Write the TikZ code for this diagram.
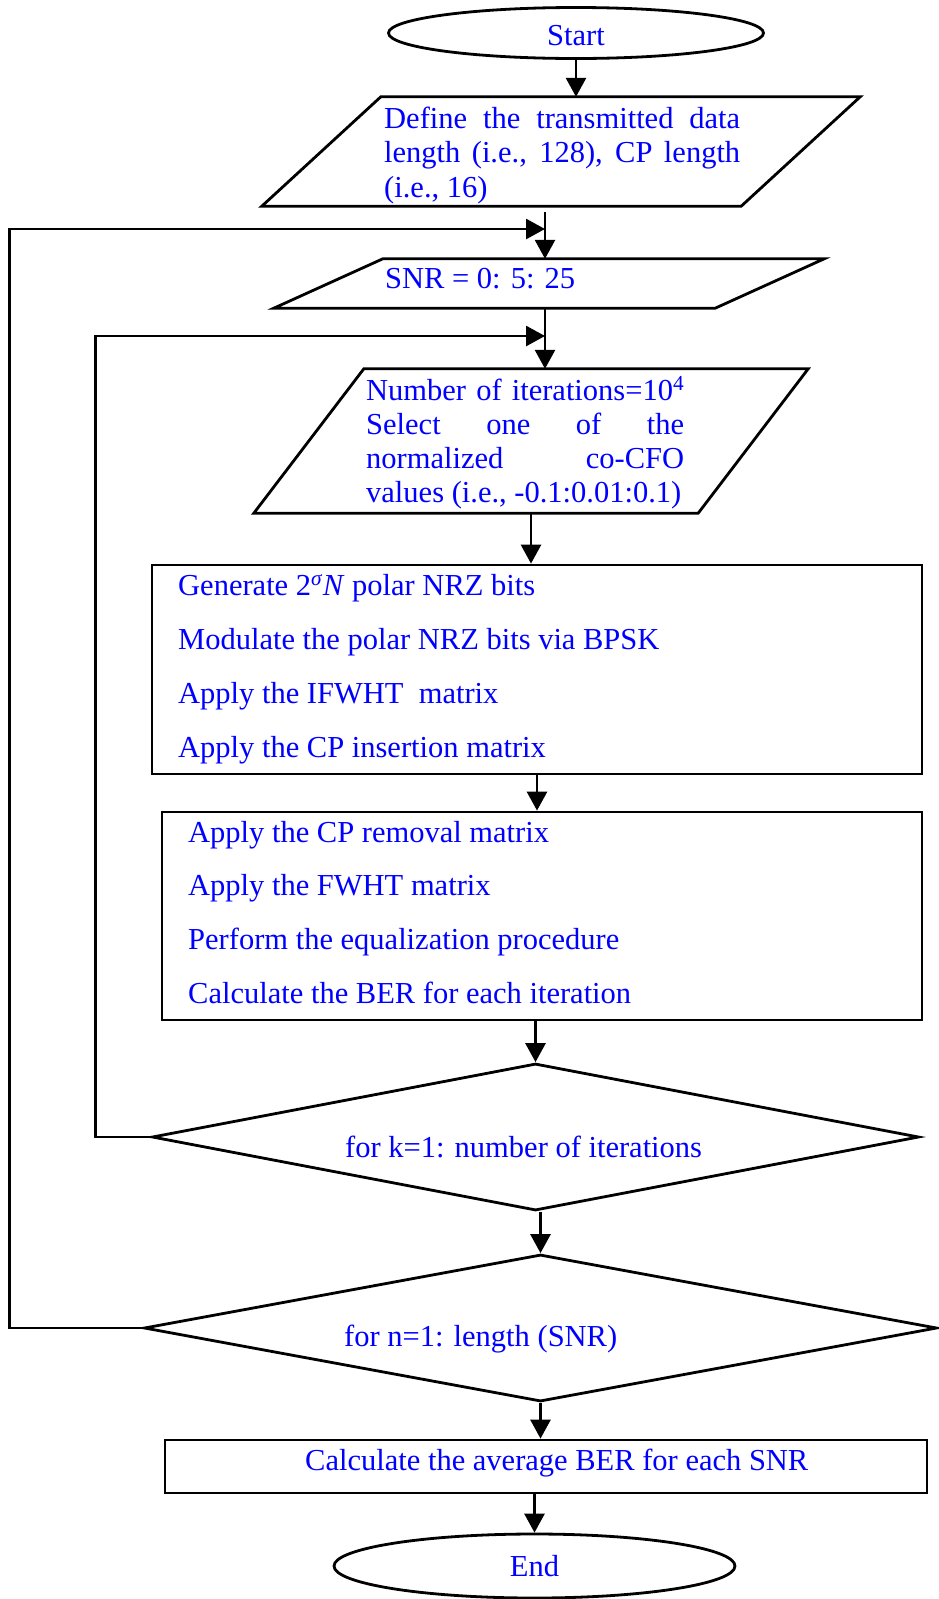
\documentclass[tikz,border=0pt]{standalone}
\usepackage{fontspec}
\setmainfont{Liberation Serif}
\usetikzlibrary{arrows.meta,shapes.geometric}
\definecolor{labelblue}{RGB}{0,0,255}

\begin{document}
\begin{tikzpicture}[x=1pt,y=-1pt,
  every node/.style={text=labelblue, font=\fontsize{30.5}{34.5}\selectfont},
  outline/.style={draw=black, line width=2.8pt},
  term/.style={outline, ellipse, inner sep=0pt},
  procbox/.style={outline, rectangle, inner sep=0pt},
  decision/.style={outline, diamond, inner sep=0pt},
  frame/.style={rectangle, inner sep=0pt},
  plain/.style={inner sep=0pt},
  steptext/.style={plain, anchor=base west, font=\fontsize{30.5}{54}\selectfont},
  flow/.style={line width=2.8pt, -{Triangle[length=19pt,width=20pt]}},
]
\useasboundingbox (0,0) rectangle (939,1599);

% ---------- start ----------
\node[term, minimum width=375pt, minimum height=51pt, text height=24pt, text depth=0pt]
  (start) at (576,33) {Start};

% ---------- input: data length and CP length ----------
\node[frame, minimum width=598pt, minimum height=109pt] (defbox) at (561,151.5) {};
\draw[outline] ([xshift=119pt]defbox.north west) -- (defbox.north east)
  -- ([xshift=-119pt]defbox.south east) -- (defbox.south west) -- cycle;
\node[plain, anchor=base west] (deftext) at (384,128)
  {\parbox[t]{356pt}{\makebox[356pt][s]{Define the transmitted data}\\
   \makebox[356pt][s]{length (i.e., 128), CP length}\\
   (i.e., 16)}};

% ---------- input: SNR range ----------
\node[frame, minimum width=550pt, minimum height=49pt] (snrbox) at (549,283.5) {};
\draw[outline] ([xshift=109pt]snrbox.north west) -- (snrbox.north east)
  -- ([xshift=-109pt]snrbox.south east) -- (snrbox.south west) -- cycle;
\node[plain, anchor=base west] (snrtext) at (385,288) {SNR = 0: 5: 25};

% ---------- input: iterations and CFO ----------
\node[frame, minimum width=554pt, minimum height=144pt] (numbox) at (531,441) {};
\draw[outline] ([xshift=110pt]numbox.north west) -- (numbox.north east)
  -- ([xshift=-110pt]numbox.south east) -- (numbox.south west) -- cycle;
\node[plain, anchor=base west, font=\fontsize{30.5}{34}\selectfont] (numtext) at (366,400)
  {\parbox[t]{318pt}{\makebox[318pt][s]{Number of iterations=10\textsuperscript{4}}\\
   \makebox[318pt][s]{Select one of the}\\
   \makebox[318pt][s]{normalized co-CFO}\\
   values (i.e., -0.1:0.01:0.1)}};

% ---------- transmitter ----------
\node[procbox, minimum width=770pt, minimum height=209pt] (gen) at (537,669.5) {};
\node[steptext] (gentext) at (178,595)
  {\parbox[t]{720pt}{Generate 2\textsuperscript{\textit{σ}}\textit{N} polar NRZ bits\\
   Modulate the polar NRZ bits via BPSK\\
   Apply the IFWHT\ \ matrix\\
   Apply the CP insertion matrix}};

% ---------- receiver ----------
\node[procbox, minimum width=760pt, minimum height=208pt] (proc) at (542,916) {};
\node[steptext, font=\fontsize{30.5}{53.7}\selectfont] (proctext) at (188,842)
  {\parbox[t]{700pt}{Apply the CP removal matrix\\
   Apply the FWHT matrix\\
   Perform the equalization procedure\\
   Calculate the BER for each iteration}};

% ---------- loops ----------
\node[decision, minimum width=767pt, minimum height=147pt] (k) at (535.5,1137) {};
\node[plain, anchor=base west] (ktext) at (345,1157) {for k=1: number of iterations};

\node[decision, minimum width=793pt, minimum height=147pt] (n) at (540.5,1328) {};
\node[plain, anchor=base west] (ntext) at (344,1346) {for n=1: length (SNR)};

% ---------- result and end ----------
\node[procbox, minimum width=762pt, minimum height=53pt] (avg) at (546,1466.5) {};
\node[plain, anchor=base west] (avgtext) at (305,1470) {Calculate the average BER for each SNR};

\node[term, minimum width=401pt, minimum height=64pt] (end) at (534.5,1566) {End};

% ---------- connectors ----------
\coordinate (j1) at (545,229);
\coordinate (j2) at (545,336);

\draw[flow] (start.south) -- (start.south |- defbox.north);
\draw[flow, shorten <=6pt] (j1 |- defbox.south) -- (j1 |- snrbox.north);
\draw[flow] (j1 |- snrbox.south) -- (j1 |- numbox.north);
\draw[flow] (numbox.south) -- (numbox.south |- gen.north);
\draw[flow] (gen.south) -- (gen.south |- proc.north);
\draw[flow] (k.north |- proc.south) -- (k.north);
\draw[flow] (n.north |- k.south) -- (n.north);
\draw[flow] (n.south) -- (n.south |- avg.north);
\draw[flow] (end.north |- avg.south) -- (end.north);

\draw[flow] (k.west) -- ++(-55pt,0) |- (j2);
\draw[flow] (n.west) -- ++(-133pt,0) |- (j1);
\end{tikzpicture}
\end{document}
